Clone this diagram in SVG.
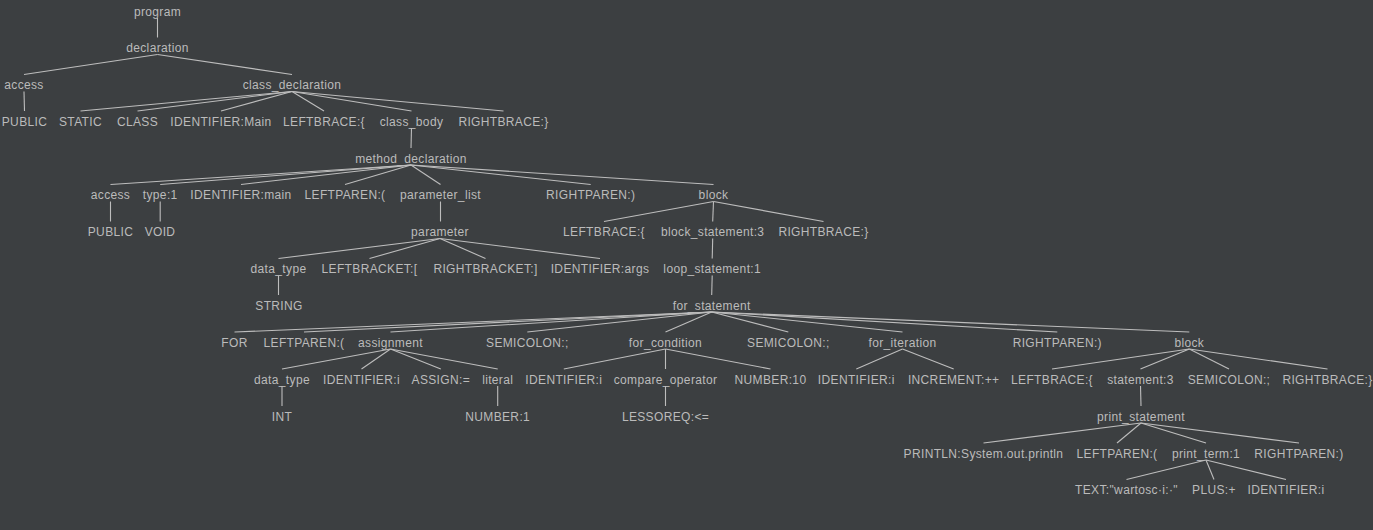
<svg xmlns="http://www.w3.org/2000/svg" width="1373" height="530" viewBox="0 0 1373 530">
  <style>
    .bg { fill: #3c3f41; }
    .node text { font-family: "Liberation Sans", Arial, sans-serif; font-size: 12px; letter-spacing: 0.35px; fill: #bbbbbb; text-anchor: middle; }
    .edges line { stroke: #bdbdbd; stroke-width: 1.1; }
  </style>
  <rect class="bg" x="0" y="0" width="1373" height="530"/>

  <!-- parent/child connectors -->
  <g id="edges" class="edges">
    <line x1="157.5" y1="18" x2="157.5" y2="37.5"/>
    <line x1="157.5" y1="54.5" x2="24" y2="74.5"/>
    <line x1="157.5" y1="54.5" x2="292" y2="74.5"/>
    <line x1="24" y1="91.5" x2="24.5" y2="111"/>
    <line x1="292" y1="91.5" x2="80.5" y2="111"/>
    <line x1="292" y1="91.5" x2="137.5" y2="111"/>
    <line x1="292" y1="91.5" x2="221" y2="111"/>
    <line x1="292" y1="91.5" x2="324" y2="111"/>
    <line x1="292" y1="91.5" x2="411.5" y2="111"/>
    <line x1="292" y1="91.5" x2="503.5" y2="111"/>
    <line x1="411.5" y1="128" x2="411" y2="148"/>
    <line x1="411" y1="165" x2="110.5" y2="184.5"/>
    <line x1="411" y1="165" x2="160.2" y2="184.5"/>
    <line x1="411" y1="165" x2="241" y2="184.5"/>
    <line x1="411" y1="165" x2="345" y2="184.5"/>
    <line x1="411" y1="165" x2="440.5" y2="184.5"/>
    <line x1="411" y1="165" x2="590.7" y2="184.5"/>
    <line x1="411" y1="165" x2="713.5" y2="184.5"/>
    <line x1="110.5" y1="201.5" x2="110.5" y2="221.5"/>
    <line x1="160.2" y1="201.5" x2="160.2" y2="221.5"/>
    <line x1="440.5" y1="201.5" x2="440.5" y2="221.5"/>
    <line x1="713.5" y1="201.5" x2="604" y2="221.5"/>
    <line x1="713.5" y1="201.5" x2="712.7" y2="221.5"/>
    <line x1="713.5" y1="201.5" x2="823.5" y2="221.5"/>
    <line x1="440" y1="238.5" x2="278.5" y2="258.5"/>
    <line x1="440" y1="238.5" x2="369.5" y2="258.5"/>
    <line x1="440" y1="238.5" x2="485.5" y2="258.5"/>
    <line x1="440" y1="238.5" x2="600" y2="258.5"/>
    <line x1="712.7" y1="238.5" x2="712.2" y2="258.5"/>
    <line x1="278.5" y1="275.5" x2="278.5" y2="295"/>
    <line x1="712.2" y1="275.5" x2="711.7" y2="295"/>
    <line x1="711.7" y1="312" x2="234.5" y2="332"/>
    <line x1="711.7" y1="312" x2="304" y2="332"/>
    <line x1="711.7" y1="312" x2="390.5" y2="332"/>
    <line x1="711.7" y1="312" x2="527.3" y2="332"/>
    <line x1="711.7" y1="312" x2="665.5" y2="332"/>
    <line x1="711.7" y1="312" x2="788.3" y2="332"/>
    <line x1="711.7" y1="312" x2="902.5" y2="332"/>
    <line x1="711.7" y1="312" x2="1057.3" y2="332"/>
    <line x1="711.7" y1="312" x2="1189.3" y2="332"/>
    <line x1="390.5" y1="349" x2="282" y2="369"/>
    <line x1="390.5" y1="349" x2="361.5" y2="369"/>
    <line x1="390.5" y1="349" x2="440.8" y2="369"/>
    <line x1="390.5" y1="349" x2="497.7" y2="369"/>
    <line x1="665.5" y1="349" x2="563.8" y2="369"/>
    <line x1="665.5" y1="349" x2="665.5" y2="369"/>
    <line x1="665.5" y1="349" x2="770.5" y2="369"/>
    <line x1="902.5" y1="349" x2="856.3" y2="369"/>
    <line x1="902.5" y1="349" x2="953.7" y2="369"/>
    <line x1="1189.3" y1="349" x2="1052" y2="369"/>
    <line x1="1189.3" y1="349" x2="1140.5" y2="369"/>
    <line x1="1189.3" y1="349" x2="1229" y2="369"/>
    <line x1="1189.3" y1="349" x2="1327.5" y2="369"/>
    <line x1="282" y1="386" x2="282" y2="406"/>
    <line x1="497.7" y1="386" x2="497.7" y2="406"/>
    <line x1="665.5" y1="386" x2="665.5" y2="406"/>
    <line x1="1140.5" y1="386" x2="1141" y2="406"/>
    <line x1="1141" y1="423" x2="983.5" y2="443"/>
    <line x1="1141" y1="423" x2="1117" y2="443"/>
    <line x1="1141" y1="423" x2="1206" y2="443"/>
    <line x1="1141" y1="423" x2="1299" y2="443"/>
    <line x1="1206" y1="460" x2="1126.5" y2="479.5"/>
    <line x1="1206" y1="460" x2="1214" y2="479.5"/>
    <line x1="1206" y1="460" x2="1286" y2="479.5"/>
  </g>

  <!-- tree nodes -->
  <g id="n-program" class="node"><text x="157.5" y="15.5">program</text></g>
  <g id="n-declaration" class="node"><text x="157.5" y="52">declaration</text></g>
  <g id="n-access" class="node"><text x="24" y="89">access</text></g>
  <g id="n-class_declaration" class="node"><text x="292" y="89">class_declaration</text></g>
  <g id="n-public" class="node"><text x="24.5" y="125.5">PUBLIC</text></g>
  <g id="n-static" class="node"><text x="80.5" y="125.5">STATIC</text></g>
  <g id="n-class" class="node"><text x="137.5" y="125.5">CLASS</text></g>
  <g id="n-identifier_main_class" class="node"><text x="221" y="125.5">IDENTIFIER:Main</text></g>
  <g id="n-leftbrace_class" class="node"><text x="324" y="125.5">LEFTBRACE:{</text></g>
  <g id="n-class_body" class="node"><text x="411.5" y="125.5">class_body</text></g>
  <g id="n-rightbrace_class" class="node"><text x="503.5" y="125.5">RIGHTBRACE:}</text></g>
  <g id="n-method_declaration" class="node"><text x="411" y="162.5">method_declaration</text></g>
  <g id="n-access_method" class="node"><text x="110.5" y="199">access</text></g>
  <g id="n-type" class="node"><text x="160.2" y="199">type:1</text></g>
  <g id="n-identifier_main" class="node"><text x="241" y="199">IDENTIFIER:main</text></g>
  <g id="n-leftparen_method" class="node"><text x="345" y="199">LEFTPAREN:(</text></g>
  <g id="n-parameter_list" class="node"><text x="440.5" y="199">parameter_list</text></g>
  <g id="n-rightparen_method" class="node"><text x="590.7" y="199">RIGHTPAREN:)</text></g>
  <g id="n-block_method" class="node"><text x="713.5" y="199">block</text></g>
  <g id="n-public_method" class="node"><text x="110.5" y="236">PUBLIC</text></g>
  <g id="n-void" class="node"><text x="160" y="236">VOID</text></g>
  <g id="n-parameter" class="node"><text x="440" y="236">parameter</text></g>
  <g id="n-leftbrace_method" class="node"><text x="604" y="236">LEFTBRACE:{</text></g>
  <g id="n-block_statement" class="node"><text x="712.7" y="236">block_statement:3</text></g>
  <g id="n-rightbrace_method" class="node"><text x="823.5" y="236">RIGHTBRACE:}</text></g>
  <g id="n-data_type_param" class="node"><text x="278.5" y="273">data_type</text></g>
  <g id="n-leftbracket" class="node"><text x="369.5" y="273">LEFTBRACKET:[</text></g>
  <g id="n-rightbracket" class="node"><text x="485.5" y="273">RIGHTBRACKET:]</text></g>
  <g id="n-identifier_args" class="node"><text x="600" y="273">IDENTIFIER:args</text></g>
  <g id="n-loop_statement" class="node"><text x="712.2" y="273">loop_statement:1</text></g>
  <g id="n-string" class="node"><text x="279" y="309.5">STRING</text></g>
  <g id="n-for_statement" class="node"><text x="711.7" y="309.5">for_statement</text></g>
  <g id="n-for" class="node"><text x="234.5" y="346.5">FOR</text></g>
  <g id="n-leftparen_for" class="node"><text x="304" y="346.5">LEFTPAREN:(</text></g>
  <g id="n-assignment" class="node"><text x="390.5" y="346.5">assignment</text></g>
  <g id="n-semicolon_1" class="node"><text x="527.3" y="346.5">SEMICOLON:;</text></g>
  <g id="n-for_condition" class="node"><text x="665.5" y="346.5">for_condition</text></g>
  <g id="n-semicolon_2" class="node"><text x="788.3" y="346.5">SEMICOLON:;</text></g>
  <g id="n-for_iteration" class="node"><text x="902.5" y="346.5">for_iteration</text></g>
  <g id="n-rightparen_for" class="node"><text x="1057.3" y="346.5">RIGHTPAREN:)</text></g>
  <g id="n-block_for" class="node"><text x="1189.3" y="346.5">block</text></g>
  <g id="n-data_type_int" class="node"><text x="282" y="383.5">data_type</text></g>
  <g id="n-identifier_i_assign" class="node"><text x="361.5" y="383.5">IDENTIFIER:i</text></g>
  <g id="n-assign" class="node"><text x="440.8" y="383.5">ASSIGN:=</text></g>
  <g id="n-literal" class="node"><text x="497.7" y="383.5">literal</text></g>
  <g id="n-identifier_i_cond" class="node"><text x="563.8" y="383.5">IDENTIFIER:i</text></g>
  <g id="n-compare_operator" class="node"><text x="665.5" y="383.5">compare_operator</text></g>
  <g id="n-number_10" class="node"><text x="770.5" y="383.5">NUMBER:10</text></g>
  <g id="n-identifier_i_iter" class="node"><text x="856.3" y="383.5">IDENTIFIER:i</text></g>
  <g id="n-increment" class="node"><text x="953.7" y="383.5">INCREMENT:++</text></g>
  <g id="n-leftbrace_for" class="node"><text x="1052" y="383.5">LEFTBRACE:{</text></g>
  <g id="n-statement" class="node"><text x="1140.5" y="383.5">statement:3</text></g>
  <g id="n-semicolon_3" class="node"><text x="1229" y="383.5">SEMICOLON:;</text></g>
  <g id="n-rightbrace_for" class="node"><text x="1327.5" y="383.5">RIGHTBRACE:}</text></g>
  <g id="n-int" class="node"><text x="282" y="420.5">INT</text></g>
  <g id="n-number_1" class="node"><text x="497.7" y="420.5">NUMBER:1</text></g>
  <g id="n-lessoreq" class="node"><text x="665.5" y="420.5">LESSOREQ:&lt;=</text></g>
  <g id="n-print_statement" class="node"><text x="1141" y="420.5">print_statement</text></g>
  <g id="n-println" class="node"><text x="983.5" y="457.5">PRINTLN:System.out.println</text></g>
  <g id="n-leftparen_print" class="node"><text x="1117" y="457.5">LEFTPAREN:(</text></g>
  <g id="n-print_term" class="node"><text x="1206" y="457.5">print_term:1</text></g>
  <g id="n-rightparen_print" class="node"><text x="1299" y="457.5">RIGHTPAREN:)</text></g>
  <g id="n-text" class="node"><text x="1126.5" y="494">TEXT:"wartosc·i:·"</text></g>
  <g id="n-plus" class="node"><text x="1214" y="494">PLUS:+</text></g>
  <g id="n-identifier_i_print" class="node"><text x="1286" y="494">IDENTIFIER:i</text></g>
</svg>
